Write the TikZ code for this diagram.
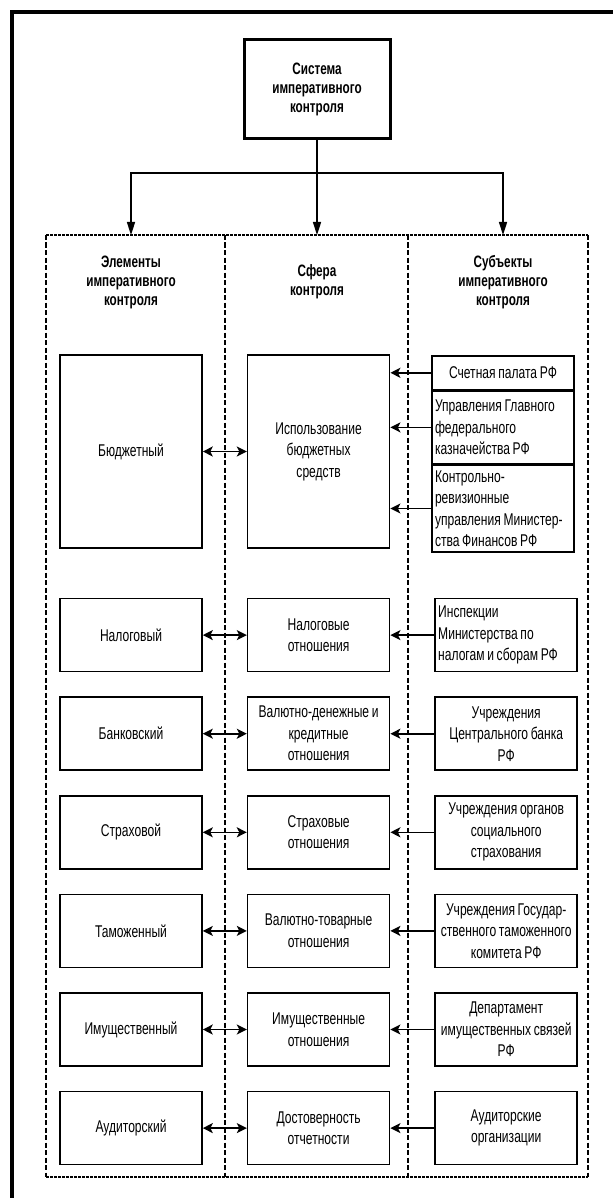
\documentclass[tikz,border=0pt]{standalone}
\usepackage{fontspec}
\setmainfont[FakeStretch=0.71,WordSpace=0.8]{Liberation Sans}
\usetikzlibrary{positioning}
\usetikzlibrary{arrows.meta}

\newcommand{\bodyfnt}{\fontsize{17}{21.5}\selectfont}
\newcommand{\headfnt}{\fontsize{16.5}{19}\selectfont\bfseries}

\begin{document}
\begin{tikzpicture}[x=1pt,y=-1pt,>={Stealth[length=10pt,width=10pt,inset=2.5pt]},
    box/.style={draw,line width=1.6pt,minimum width=142pt,minimum height=73pt,
                inner sep=2pt,align=center,font=\bodyfnt},
    lbox/.style={box,align=flush left,text width=136pt},
    head/.style={align=center,font=\headfnt},
    link/.style={->,line width=1.6pt},
    dlink/.style={<->,line width=1.6pt},
    down/.style={->,line width=1.6pt,>={Triangle[length=13pt,width=8pt]}}]

  \useasboundingbox (0,0) rectangle (613,1198);

  % outer frame
  \draw[line width=4pt] (12,1198) -- (12,12) -- (613,12);

  % top
  \node[box,line width=3pt,font=\headfnt,minimum width=146pt,minimum height=99pt]
        (top) at (317,89.5) {Система\\императивного\\контроля};
  \coordinate (split) at (317,173);
  \coordinate (tL) at (131,235);
  \coordinate (tM) at (317,235);
  \coordinate (tR) at (503,235);

  % column frames
  \draw[line width=2.4pt,dash pattern=on 2.5pt off 1.5pt] (46,235) -- (588,235);
  \draw[line width=2.4pt,dash pattern=on 2.5pt off 1.5pt] (46,1177) -- (588,1177);
  \foreach \x in {46,225,408,588}
    \draw[line width=1.8pt,dash pattern=on 5pt off 2.5pt] (\x,235) -- (\x,1177);

  % headers
  \node[head] (hE) at (131,282) {Элементы\\императивного\\контроля};
  \node[head] (hF) at (317,282) {Сфера\\контроля};
  \node[head] (hS) at (503,282) {Субъекты\\императивного\\контроля};

  % elements and spheres
  \node[box,minimum height=193pt] (E1) at (131,451.5) {Бюджетный};
  \node[box,minimum height=193pt] (F1) [right = 44pt of E1] {Использование\\бюджетных\\средств};

  \node[box] (E2) [below = 49pt of E1] {Налоговый};
  \node[box] (E3) [below = 24pt of E2] {Банковский};
  \node[box] (E4) [below = 24pt of E3] {Страховой};
  \node[box] (E5) [below = 24pt of E4] {Таможенный};
  \node[box] (E6) [below = 24pt of E5] {Имущественный};
  \node[box] (E7) [below = 24pt of E6] {Аудиторский};

  \node[box] (F2) [right = 44pt of E2] {Налоговые\\отношения};
  \node[box] (F3) [right = 44pt of E3] {Валютно-денежные и\\кредитные\\отношения};
  \node[box] (F4) [right = 44pt of E4] {Страховые\\отношения};
  \node[box] (F5) [right = 44pt of E5] {Валютно-товарные\\отношения};
  \node[box] (F6) [right = 44pt of E6] {Имущественные\\отношения};
  \node[box] (F7) [right = 44pt of E7] {Достоверность\\отчетности};

  % subjects
  \node[box,minimum height=34pt,anchor=north] (S1) at (503,355) {Счетная палата РФ};
  \node[lbox,minimum height=72pt] (S2) [below = 0pt of S1]
        {Управления Главного\\федерального\\казначейства РФ};
  \node[lbox,minimum height=87pt] (S3) [below = 0pt of S2]
        {Контрольно-\\ревизионные\\управления Министер-\\ства Финансов РФ};
  \node[lbox] (S4) [right = 44pt of F2] {Инспекции\\Министерства по\\налогам и сборам РФ};
  \node[box] (S5) [right = 44pt of F3] {Учреждения\\Центрального банка\\РФ};
  \node[box] (S6) [right = 44pt of F4] {Учреждения органов\\социального\\страхования};
  \node[box] (S7) [right = 44pt of F5] {Учреждения Государ-\\ственного таможенного\\комитета РФ};
  \node[box] (S8) [right = 44pt of F6] {Департамент\\имущественных связей\\РФ};
  \node[box] (S9) [right = 44pt of F7] {Аудиторские\\организации};

  % connectors
  \draw[line width=1.6pt] (top) -- (split);
  \draw[down] (split) -- (tM);
  \draw[down] (split) -| (tL);
  \draw[down] (split) -| (tR);

  \foreach \i in {1,...,7}
    \draw[dlink] (E\i) -- (F\i);
  \foreach \i in {1,2,3}
    \draw[link] (S\i.west) -- (S\i.west -| F1.east);
  \foreach \i/\j in {4/2,5/3,6/4,7/5,8/6,9/7}
    \draw[link] (S\i) -- (F\j);
\end{tikzpicture}
\end{document}
